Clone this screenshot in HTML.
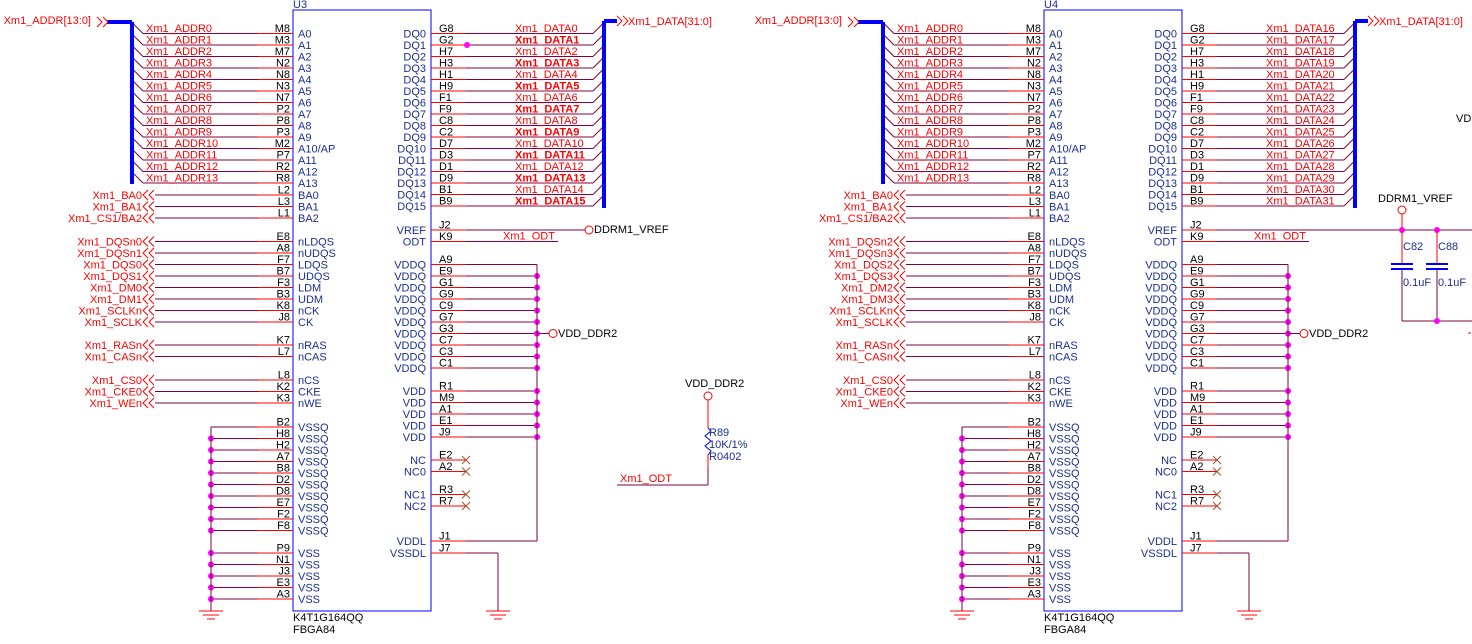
<!DOCTYPE html>
<html><head><meta charset="utf-8"><style>
html,body{margin:0;padding:0;background:#fff;}
svg{display:block;font-family:"Liberation Sans",Arial,sans-serif;font-size:11px;}
</style></head><body>
<svg id="s" width="1472" height="644" xmlns="http://www.w3.org/2000/svg"></svg>
<script>
var S=document.getElementById('s');var out='';
var RED='#ff0000',W='#800040',BL='#0000ff',NV='#1a2f8f',MG='#ff00ff';
function L(x1,y1,x2,y2,c,w){out+='<line x1="'+x1+'" y1="'+y1+'" x2="'+x2+'" y2="'+y2+'" stroke="'+c+'" stroke-width="'+(w||1)+'"/>';}
function T(x,y,s,c,a,b){out+='<text x="'+x+'" y="'+y+'" fill="'+c+'"'+(a?' text-anchor="'+a+'"':'')+(b?' font-weight="bold"':'')+'>'+s+'</text>';}
function D(x,y){out+='<circle cx="'+x+'" cy="'+y+'" r="3" fill="'+MG+'"/>';}
function O(x,y){out+='<circle cx="'+x+'" cy="'+y+'" r="4" fill="none" stroke="'+RED+'"/>';}
function G(x,y){L(x-12,y,x+12,y,RED);L(x-8,y+4,x+8,y+4,RED);L(x-4,y+8,x+4,y+8,RED);}
function X(x,y){L(x-4,y-4,x+4,y+4,'#a0522d');L(x-4,y+4,x+4,y-4,'#a0522d');}
function CH(x,y){out+='<polyline points="'+(x+6)+','+(y-5)+' '+(x+1)+','+y+' '+(x+6)+','+(y+5)+'" fill="none" stroke="'+RED+'"/><polyline points="'+(x+12)+','+(y-5)+' '+(x+7)+','+y+' '+(x+12)+','+(y+5)+'" fill="none" stroke="'+RED+'"/>';}
function CHR(x,y){out+='<polyline points="'+x+','+(y-5)+' '+(x+5)+','+y+' '+x+','+(y+5)+'" fill="none" stroke="'+RED+'"/><polyline points="'+(x+6)+','+(y-5)+' '+(x+11)+','+y+' '+(x+6)+','+(y+5)+'" fill="none" stroke="'+RED+'"/>';}
var sp=11.5;
function chip(o,u,second){
  out+='<rect x="'+(293+o)+'" y="10" width="138" height="601" fill="none" stroke="'+BL+'"/>';
  T(293+o,8,u,NV);T(293+o,621,'K4T1G164QQ','#000');T(293+o,633,'FBGA84','#000');
  function lp(num,name,y){L(258+o,y,293+o,y,RED);T(290+o,y-1.5,num,'#000','end');T(298+o,y+4,name,NV);}
  function rp(num,name,y){L(431+o,y,466+o,y,RED);T(439+o,y-1.5,num,'#000');T(426+o,y+4,name,NV,'end');}
  var an=['M8','M3','M7','N2','N8','N3','N7','P2','P8','P3','M2','P7','R2','R8'];
  for(var i=0;i<14;i++){var y=33.5+i*sp;lp(an[i],i==10?'A10/AP':'A'+i,y);L(143+o,y,258+o,y,W);L(132+o,y-11,143+o,y,W);T(146+o,y-1.5,'Xm1_ADDR'+i,RED);}
  L(132+o,22,132+o,184,BL,4);L(107+o,22,132+o,22,BL,4);CHR(97+o,22);T(91+o,24,'Xm1_ADDR[13:0]',RED,'end');
  var ch=[['L2','BA0','Xm1_BA0',195],['L3','BA1','Xm1_BA1',206.5],['L1','BA2','Xm1_CS1/BA2',218],
   ['E8','nLDQS',second?'Xm1_DQSn2':'Xm1_DQSn0',241.5],['A8','nUDQS',second?'Xm1_DQSn3':'Xm1_DQSn1',253],
   ['F7','LDQS',second?'Xm1_DQS2':'Xm1_DQS0',264.5],['B7','UDQS',second?'Xm1_DQS3':'Xm1_DQS1',276],
   ['F3','LDM',second?'Xm1_DM2':'Xm1_DM0',287.5],['B3','UDM',second?'Xm1_DM3':'Xm1_DM1',299],
   ['K8','nCK','Xm1_SCLKn',310.5],['J8','CK','Xm1_SCLK',322],['K7','nRAS','Xm1_RASn',345],['L7','nCAS','Xm1_CASn',356.5],
   ['L8','nCS','Xm1_CS0',380],['K2','CKE','Xm1_CKE0',391.5],['K3','nWE','Xm1_WEn',403]];
  ch.forEach(function(c){lp(c[0],c[1],c[3]);L(155+o,c[3],258+o,c[3],W);CH(142+o,c[3]);T(142+o,c[3]+4,c[2],RED,'end');});
  var vs=['B2','H8','H2','A7','B8','D2','D8','E7','F2','F8'];
  vs.forEach(function(n,i){var y=427+i*sp;lp(n,'VSSQ',y);L(211+o,y,258+o,y,W);if(i)D(211+o,y);});
  ['P9','N1','J3','E3','A3'].forEach(function(n,i){var y=553+i*sp;lp(n,'VSS',y);L(211+o,y,258+o,y,W);D(211+o,y);});
  L(211+o,427,211+o,611,W);G(211+o,611);
  var dn=['G8','G2','H7','H3','H1','H9','F1','F9','C8','C2','D7','D3','D1','D9','B1','B9'];
  for(i=0;i<16;i++){y=33.5+i*sp;rp(dn[i],'DQ'+i,y);L(466+o,y,593+o,y,W);L(593+o,y,604+o,y-11,W);T(515+o,y-1.5,'Xm1_DATA'+(second?i+16:i),RED,null,!second&&(i%2==1));}
  if(!second)D(467,45);
  L(604+o,21,604+o,208,BL,4);L(604+o,21,617+o,21,BL,4);CHR(617+o,21);T(628+o,25,'Xm1_DATA[31:0]',RED);
  rp('J2','VREF',230);rp('K9','ODT',241.5);
  if(!second){L(466,230,585,230,W);O(589,230);T(594,233,'DDRM1_VREF','#000');}
  else{L(466+o,230,1472,230,W);}
  L(466+o,241.5,558+o,241.5,W);T(503+o,239.5,'Xm1_ODT',RED);
  var vq=['A9','E9','G1','G9','C9','G7','G3','C7','C3','C1'];
  vq.forEach(function(n,i){y=264.5+i*sp;rp(n,'VDDQ',y);L(466+o,y,537+o,y,W);if(i)D(537+o,y);});
  ['R1','M9','A1','E1','J9'].forEach(function(n,i){y=391+i*sp;rp(n,'VDD',y);L(466+o,y,537+o,y,W);D(537+o,y);});
  rp('J1','VDDL',541);L(466+o,541,537+o,541,W);L(537+o,264.5,537+o,541,W);
  L(537+o,333.5,549+o,333.5,W);O(553+o,333.5);T(558+o,337,'VDD_DDR2','#000');
  [['E2','NC',460],['A2','NC0',471.5],['R3','NC1',494.5],['R7','NC2',506]].forEach(function(c){rp(c[0],c[1],c[2]);X(466+o,c[2]);});
  rp('J7','VSSDL',553);L(466+o,553,498+o,553,W);L(498+o,553,498+o,611,W);G(498+o,611);
}
chip(0,'U3',false);chip(751,'U4',true);
// R89
T(685,387,'VDD_DDR2','#000');O(708,396);L(708,400,708,428,RED);
out+='<polyline points="708,428 711,431 705,436 711,441 705,446 711,451 708,455" fill="none" stroke="'+BL+'"/>';
L(708,455,708,468,RED);L(708,468,708,485,W);L(617,485,708,485,W);
T(709,436,'R89',NV);T(709,448,'10K/1%',NV);T(709,460,'R0402',NV);T(620,482,'Xm1_ODT',RED);
// caps
T(1378,202,'DDRM1_VREF','#000');O(1402,210);L(1402,214,1402,230,RED);D(1402,230);D(1437,230);
[1402,1437].forEach(function(x,i){L(x,230,x,264,RED);L(x-11,264,x+11,264,BL,2);L(x-11,269,x+11,269,BL,2);L(x,269,x,321,W);T(x+1,250,i?'C88':'C82',NV);T(x+1,286,'0.1uF',NV);});
L(1402,321,1472,321,W);D(1437,321);T(1456,122,'VD','#000');L(1468,333,1471,333,RED);
S.innerHTML=out;
</script>
</body></html>
